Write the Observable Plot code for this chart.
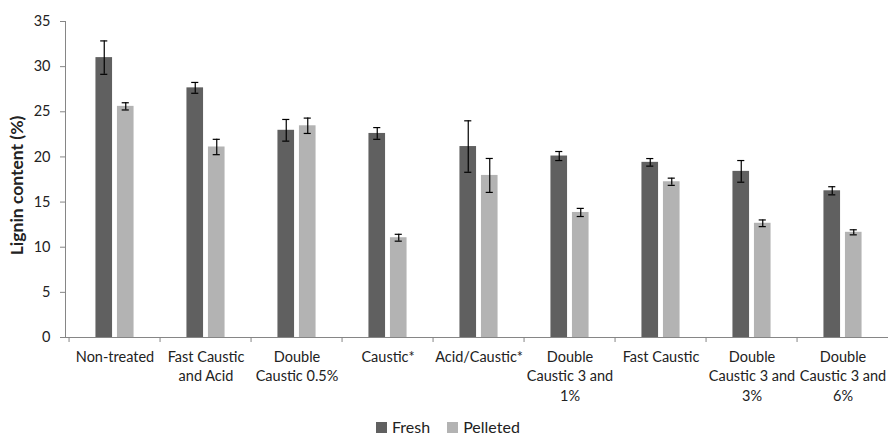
<!DOCTYPE html>
<html>
<head>
<meta charset="utf-8">
<script src="https://cdn.jsdelivr.net/npm/d3@7"></script>
<script src="https://cdn.jsdelivr.net/npm/@observablehq/plot@0.6"></script>
<style>
  html, body { margin: 0; padding: 0; background: #fff; }
  #chart { width: 888px; height: 437px; overflow: hidden; }
  .legend { display: flex; align-items: center; height: 18px; line-height: 18px; margin-left: 376px; font-family: Lato, "Open Sans", sans-serif; font-size: 16px; color: #222; }
  .legend .item { display: flex; align-items: center; margin-right: 17px; }
  .legend .sw { width: 11px; height: 11px; margin-right: 5px; }
</style>
</head>
<body>
<div id="chart"></div>
<script>
const categories = [
  "Non-treated",
  "Fast Caustic\nand Acid",
  "Double\nCaustic 0.5%",
  "Caustic*",
  "Acid/Caustic*",
  "Double\nCaustic 3 and\n1%",
  "Fast Caustic",
  "Double\nCaustic 3 and\n3%",
  "Double\nCaustic 3 and\n6%"
];
const seriesNames = ["Fresh", "Pelleted"];
const seriesColors = ["#606060", "#b3b3b3"];
const freshValues    = [31.0, 27.65, 22.95, 22.6, 21.15, 20.1, 19.4, 18.4, 16.25];
const freshErrors    = [1.85, 0.6, 1.2, 0.65, 2.85, 0.5, 0.42, 1.2, 0.45];
const pelletedValues = [25.6, 21.1, 23.45, 11.05, 17.95, 13.85, 17.25, 12.65, 11.65];
const pelletedErrors = [0.4, 0.85, 0.85, 0.38, 1.88, 0.45, 0.4, 0.37, 0.28];
const yTicks = [0, 5, 10, 15, 20, 25, 30, 35];

const rows = [];
categories.forEach((c, i) => {
  rows.push({cat: c, series: "Fresh", value: freshValues[i], err: freshErrors[i]});
  rows.push({cat: c, series: "Pelleted", value: pelletedValues[i], err: pelletedErrors[i]});
});
const fresh = rows.filter(d => d.series === "Fresh");
const pell = rows.filter(d => d.series === "Pelleted");

const W = 888, H = 418;
const mL = 65, mT = 21, mB = 81;
const xRight = 892;               // plot area continues slightly past the canvas edge
const step = (xRight - mL) / categories.length;
const barW = 17.5, gap = 4;
const outer = (step - 2 * barW - gap) / 2;
const offC = gap / 2 + barW / 2;  // offset of bar centre from category centre
const capHalf = 4;
const font = "Lato, 'Open Sans', sans-serif";
const axisGray = "#868686";
const errStyle = {stroke: "#000", strokeWidth: 1.2};

const chart = Plot.plot({
  width: W,
  height: H,
  marginLeft: mL,
  marginTop: mT,
  marginBottom: mB,
  marginRight: 0,
  style: {fontFamily: font, fontSize: "14.5px", color: "#222", background: "#fff"},
  x: {type: "band", domain: categories, range: [mL, xRight], padding: 0, axis: null},
  y: {domain: [0, 35], axis: null},
  color: {domain: seriesNames, range: seriesColors},
  marks: [
    // bars
    Plot.barY(fresh, {x: "cat", y: "value", fill: "series", insetLeft: outer, insetRight: outer + barW + gap}),
    Plot.barY(pell, {x: "cat", y: "value", fill: "series", insetLeft: outer + barW + gap, insetRight: outer}),
    // error bars
    Plot.ruleX(fresh, {x: "cat", y1: d => d.value - d.err, y2: d => d.value + d.err, dx: -offC, ...errStyle}),
    Plot.ruleX(pell, {x: "cat", y1: d => d.value - d.err, y2: d => d.value + d.err, dx: offC, ...errStyle}),
    Plot.tickY(fresh, {x: "cat", y: d => d.value + d.err, insetLeft: step / 2 - offC - capHalf, insetRight: step / 2 + offC - capHalf, ...errStyle}),
    Plot.tickY(fresh, {x: "cat", y: d => d.value - d.err, insetLeft: step / 2 - offC - capHalf, insetRight: step / 2 + offC - capHalf, ...errStyle}),
    Plot.tickY(pell, {x: "cat", y: d => d.value + d.err, insetLeft: step / 2 + offC - capHalf, insetRight: step / 2 - offC - capHalf, ...errStyle}),
    Plot.tickY(pell, {x: "cat", y: d => d.value - d.err, insetLeft: step / 2 + offC - capHalf, insetRight: step / 2 - offC - capHalf, ...errStyle}),
    // y axis
    Plot.axisY(yTicks, {tickSize: 5, tickPadding: 10, stroke: axisGray, fontSize: 14.5, label: "Lignin content (%)", labelAnchor: "center", labelArrow: "none", labelOffset: 55}),
    Plot.frame({anchor: "left", stroke: axisGray}),
    // x axis
    Plot.ruleY([0], {stroke: axisGray}),
    Plot.axisX({tickSize: 5, tickFormat: () => "", dx: -step / 2, stroke: axisGray, label: null}),
    Plot.axisX({tickSize: 0, tickPadding: 11, lineHeight: 1.33, fontSize: 14.5, label: null})
  ]
});

// bold, larger y label
chart.querySelectorAll("g[aria-label='y-axis label'] text").forEach(t => {
  t.setAttribute("font-weight", "bold");
  t.setAttribute("font-size", "17.5");
  t.setAttribute("dx", "-6");
});

document.getElementById("chart").appendChild(chart);

const legend = document.createElement("div");
legend.className = "legend";
seriesNames.forEach((s, i) => {
  const item = document.createElement("div");
  item.className = "item";
  const sw = document.createElement("span");
  sw.className = "sw";
  sw.style.background = seriesColors[i];
  const label = document.createElement("span");
  label.textContent = s;
  item.appendChild(sw);
  item.appendChild(label);
  legend.appendChild(item);
});
document.getElementById("chart").appendChild(legend);
</script>
</body>
</html>
